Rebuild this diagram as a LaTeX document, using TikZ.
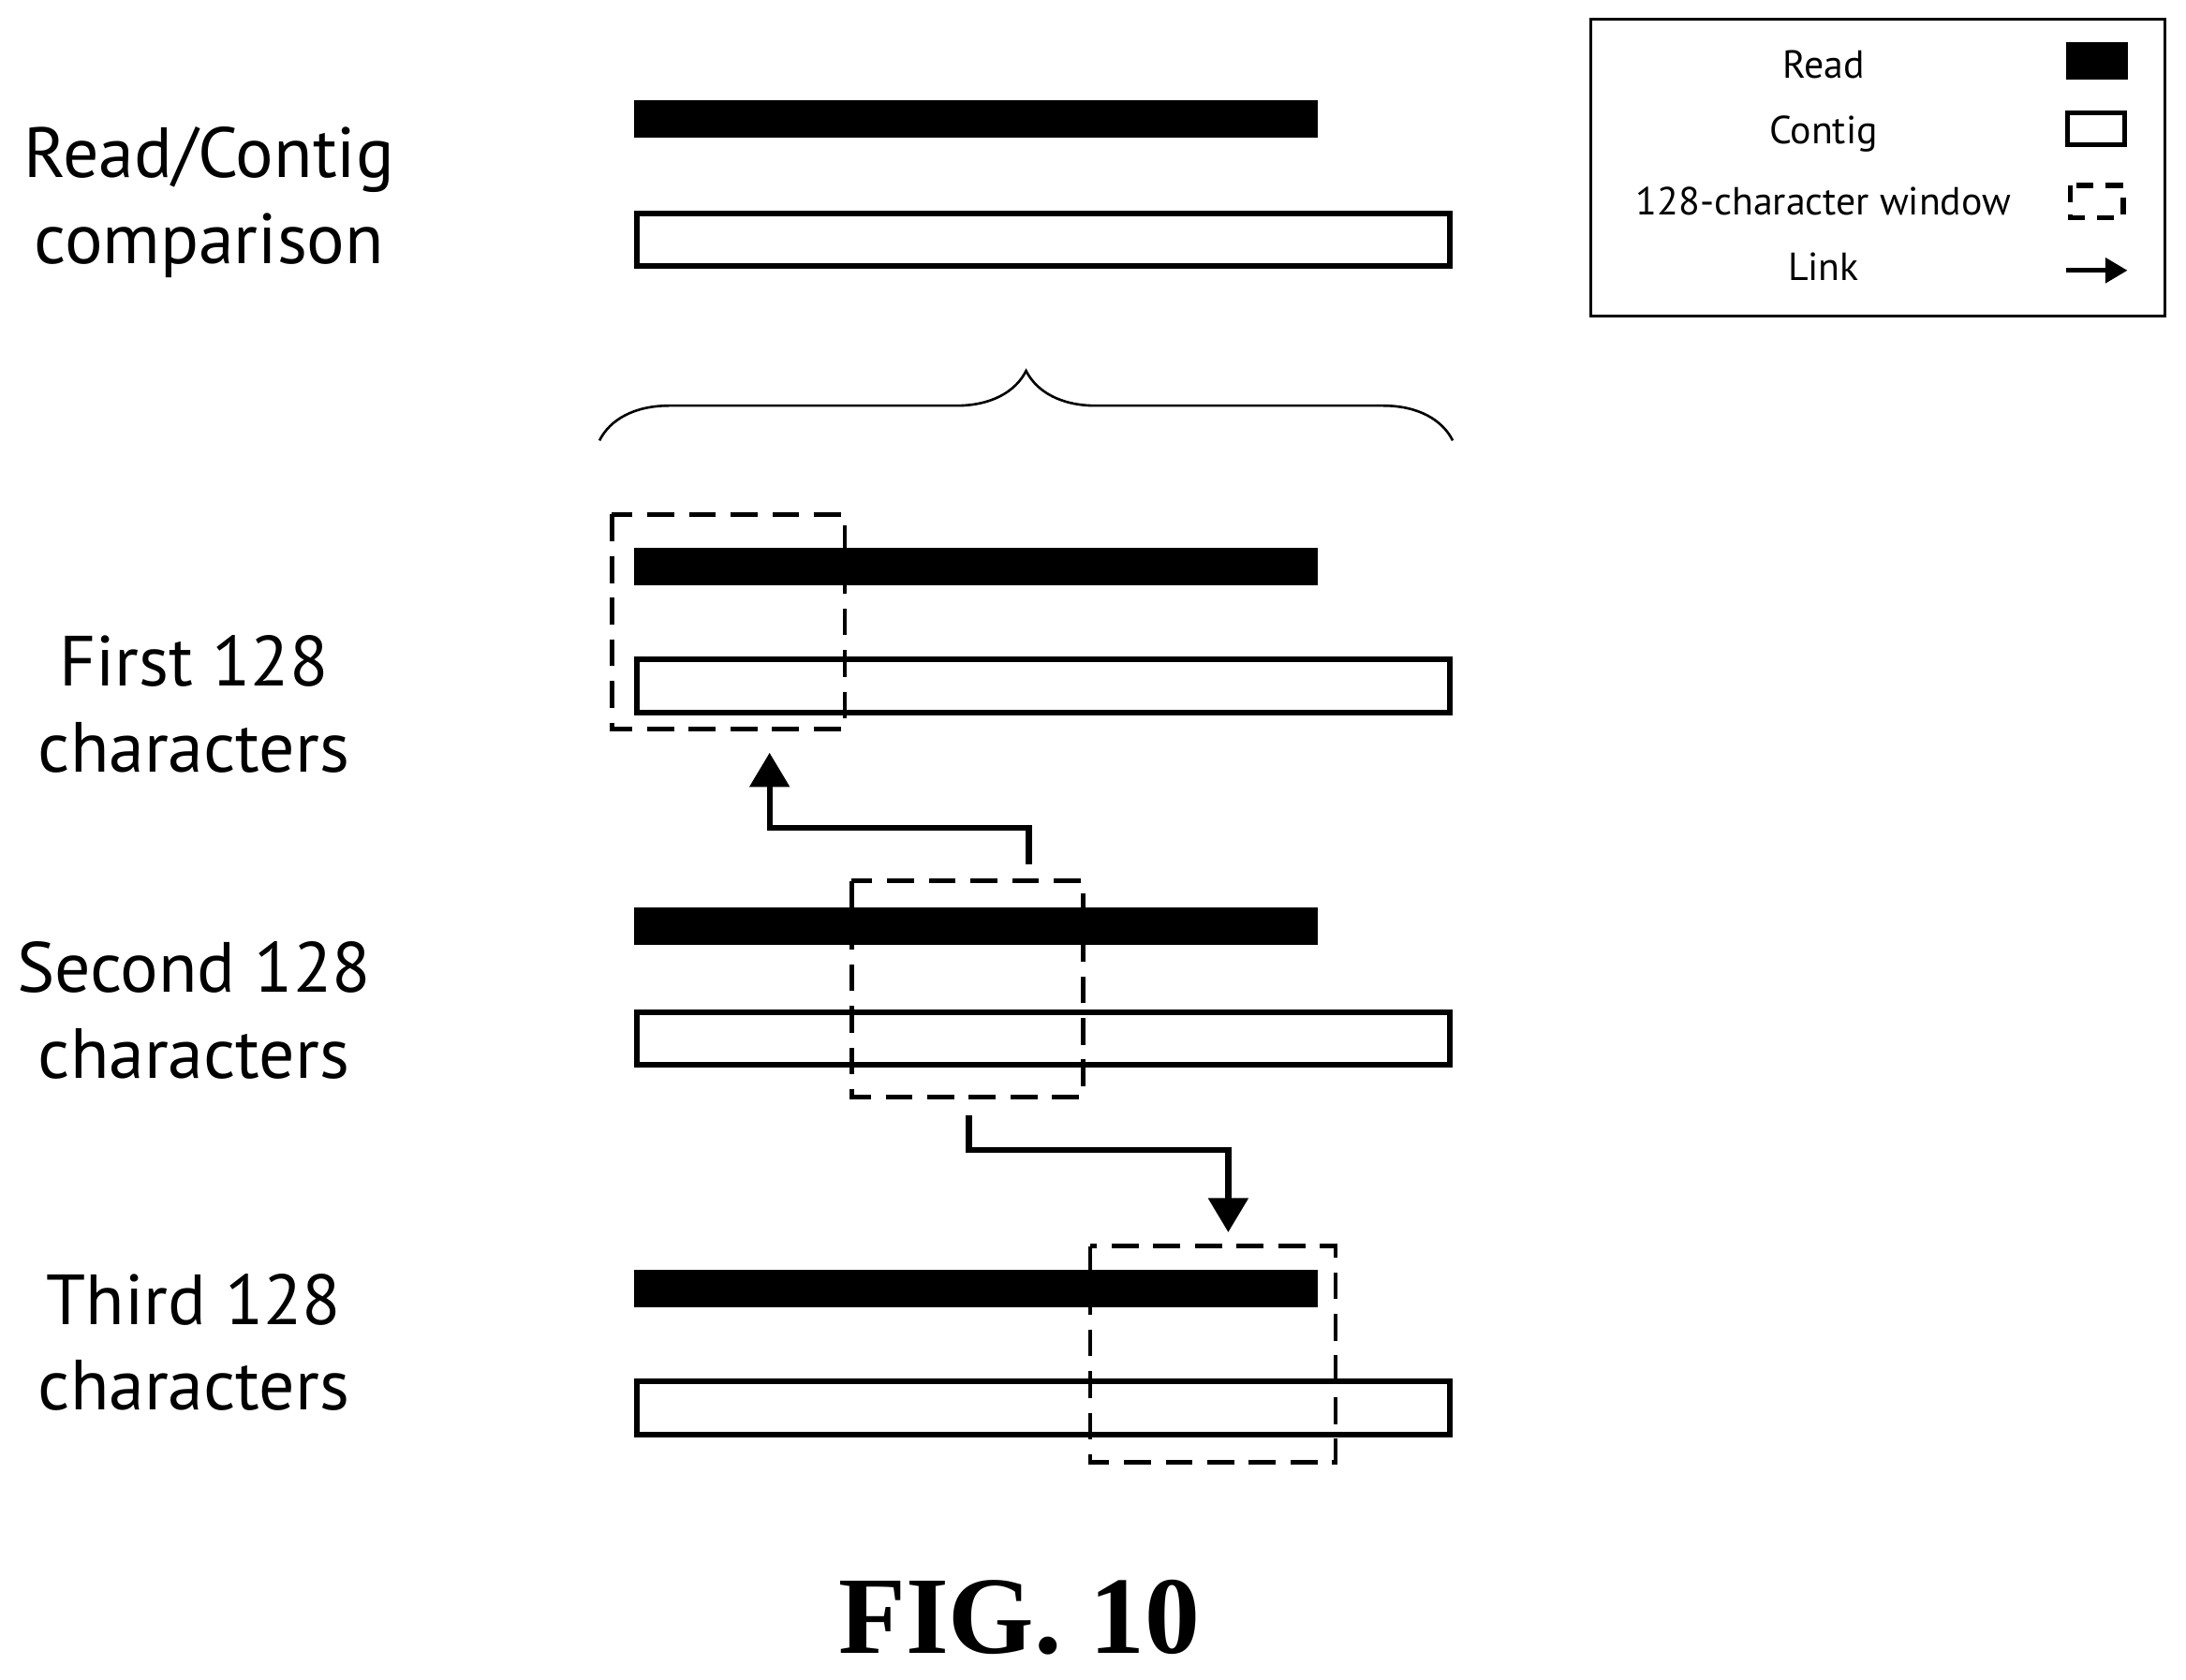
\documentclass[tikz,border=0pt]{standalone}
\usepackage{fontspec}
\setmainfont{Liberation Serif}
\newfontfamily\lab{PT Sans}
\usetikzlibrary{decorations.pathreplacing,arrows.meta}
\begin{document}
\begin{tikzpicture}[x=0.02cm,y=-0.02cm,
  readbar/.style={fill=black,draw=none},
  contig/.style={draw=black,fill=white,line width=2.2pt},
  win/.style={draw=black,line width=1.8pt,dash pattern=on 11pt off 6pt},
  link/.style={draw=black,line width=2.4pt,-{Triangle[length=14pt,width=16pt]}},
  lbl/.style={font=\lab\fontsize{29}{35}\selectfont,align=center},
  leg/.style={font=\lab\fontsize{16}{18}\selectfont}]
\useasboundingbox (0,0) rectangle (1568,1205);
% labels
\node[lbl] (l1) at (150,145) {Read/Contig\\comparison};
\node[lbl] (l2) at (139,505) {First 128\\characters};
\node[lbl] (l3) at (139,725) {Second 128\\characters};
\node[lbl] (l4) at (139,963) {Third 128\\characters};
% rows
\foreach \r/\c in {72/153,393/473,651/726,911/991}{
  \fill[readbar] (455,\r) rectangle (945,\r+27);
  \draw[contig] (457,\c) rectangle (1040,\c+38);
}
% brace
\draw[line width=1pt,decorate,decoration={brace,amplitude=1cm,aspect=0.5}] (430,316) -- (1042,316);
% windows
\draw[win] (439,369) rectangle (606,523);
\draw[win] (611,632) rectangle (777,787);
\draw[win] (782,894) rectangle (958,1049);
% links
\coordinate (a0) at (738,620);
\coordinate (a1) at (552,540);
\draw[link] (a0) -- (738,594) -- (552,594) -- (a1);
\coordinate (b0) at (695,800);
\coordinate (b1) at (881,884);
\draw[link] (b0) -- (695,825) -- (881,825) -- (b1);
% fig label
\node[font=\bfseries\fontsize{45}{52}\selectfont] (fig) at (731,1160) {FIG. 10};
% legend
\draw[line width=1.2pt] (1141,14) rectangle (1553,227);
\node[leg] (t1) at (1308,46) {Read};
\node[leg] (t2) at (1308,96) {Contig};
\node[leg] (t3) at (1308,144) {128-character window};
\node[leg] (t4) at (1308,191) {Link};
\fill (1482,30) rectangle (1526,57);
\draw[line width=2pt] (1483,81) rectangle (1524,104);
\draw[line width=2pt,dash pattern=on 7pt off 5pt] (1485,133) rectangle (1523,156);
\coordinate (k0) at (1482,194);
\coordinate (k1) at (1526,194);
\draw[line width=2pt,-{Triangle[length=9pt,width=10pt]}] (k0) -- (k1);
\end{tikzpicture}
\end{document}
